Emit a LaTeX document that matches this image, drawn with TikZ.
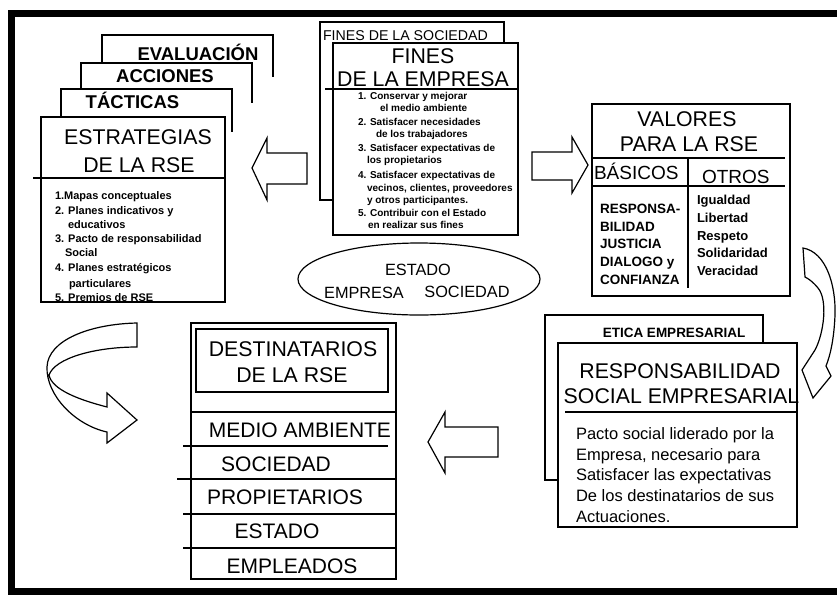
\documentclass[tikz,border=0pt]{standalone}
\usepackage{fontspec}
\setmainfont{Liberation Sans}
\usetikzlibrary{shapes.geometric}
\begin{document}
\begin{tikzpicture}[x=1pt,y=-1pt,
  ln/.style={line width=1.2pt, line join=miter},
  txt/.style={inner sep=0pt, outer sep=0pt, text=black},
  big/.style={txt, anchor=base, font=\fontsize{21.3}{22}\selectfont},
  tab/.style={txt, anchor=base, font=\bfseries\fontsize{18.5}{19}\selectfont},
  estl/.style={txt, anchor=base west, font=\bfseries\fontsize{11}{12}\selectfont},
  finl/.style={txt, anchor=base west, font=\bfseries\fontsize{10}{11}\selectfont},
  vall/.style={txt, anchor=base west, font=\bfseries\fontsize{13.5}{14}\selectfont},
  valr/.style={txt, anchor=base west, font=\bfseries\fontsize{13}{14}\selectfont},
  ellt/.style={txt, anchor=base, font=\fontsize{16.3}{17}\selectfont},
  dest/.style={txt, anchor=base, font=\fontsize{21}{22}\selectfont},
  body/.style={txt, anchor=base west, font=\fontsize{16.5}{17}\selectfont},
  hollow/.style={ln, fill=white, line join=miter}
]
\useasboundingbox (0,0) rectangle (837,595);
% frame
\draw[line width=7pt, line join=miter] (837,13.5) -- (11.5,13.5) -- (11.5,591) -- (837,591);

% ---------- stacked tabs ----------
\draw[ln] (102,63) -- (102,35) -- (273,35) -- (273,77);
\draw[ln] (81,89) -- (81,63) -- (252,63) -- (252,103);
\draw[ln] (61,117) -- (61,89) -- (232,89) -- (232,132);
\node[tab] (eval) at (198,60) {EVALUACIÓN};
\node[tab] (acc) at (165,82) {ACCIONES};
\node[tab] (tac) at (132.5,108) {TÁCTICAS};

% ---------- estrategias ----------
\draw[ln] (41,117) rectangle (225,302);
\draw[ln] (33,178) -- (225,178);
\node[big] (estr1) at (138,144) {ESTRATEGIAS};
\node[big] (estr2) at (139,172) {DE LA RSE};
\node[estl] (e1) at (55,199) {1.Mapas conceptuales};
\node[estl] (e2) at (55,214) {2. Planes indicativos y};
\node[estl] (e3) at (68,228) {educativos};
\node[estl] (e4) at (55,242) {3. Pacto de responsabilidad};
\node[estl] (e5) at (65,256) {Social};
\node[estl] (e6) at (55,271) {4. Planes estratégicos};
\node[estl] (e7) at (69,287) {particulares};
\node[estl] (e8) at (55,301) {5. Premios de RSE};

% ---------- fines ----------
\draw[ln] (333,200) -- (320,200) -- (320,22) -- (504,22) -- (504,43);
\node[txt, anchor=base west, font=\fontsize{14.2}{15}\selectfont] (finsoc) at (323,40) {FINES DE LA SOCIEDAD};
\draw[ln] (333,43) rectangle (518,235);
\draw[ln] (325,89) -- (518,89);
\node[big] (fin1) at (423,63) {FINES};
\node[big] (fin2) at (423,86.5) {DE LA EMPRESA};
\node[finl] (f1) at (358,99) {1. Conservar y mejorar};
\node[finl] (f2) at (380,111.5) {el medio ambiente};
\node[finl] (f3) at (358,125) {2. Satisfacer necesidades};
\node[finl] (f4) at (376,137.5) {de los trabajadores};
\node[finl] (f5) at (358,151) {3. Satisfacer expectativas de};
\node[finl] (f6) at (367,163.5) {los propietarios};
\node[finl] (f7) at (358,178) {4. Satisfacer expectativas de};
\node[finl] (f8) at (367,191) {vecinos, clientes, proveedores};
\node[finl] (f9) at (367,203) {y otros participantes.};
\node[finl] (f10) at (358,216) {5. Contribuir con el Estado};
\node[finl] (f11) at (368,228.5) {en realizar sus fines};

% ---------- straight arrows ----------
\draw[hollow] (307,153) -- (267,153) -- (267,138) -- (252,168) -- (267,200) -- (267,184) -- (307,184) -- cycle;
\draw[hollow] (532,152) -- (572,152) -- (572,137) -- (588,165) -- (572,193) -- (572,180) -- (532,180) -- cycle;
\draw[hollow] (498,427) -- (445,427) -- (445,412) -- (428,442) -- (445,473) -- (445,457) -- (498,457) -- cycle;

% ---------- valores ----------
\draw[ln] (592,104) rectangle (790,296);
\draw[ln] (592,158) -- (785,158);
\draw[ln] (592,186) -- (785,186);
\draw[ln] (688,158) -- (688,288);
\node[big] (val1) at (687,126) {VALORES};
\node[big] (val2) at (689,151) {PARA LA RSE};
\node[txt, anchor=base west, font=\fontsize{19}{20}\selectfont] (bas) at (594,179) {BÁSICOS};
\node[txt, anchor=base west, font=\fontsize{19}{20}\selectfont] (otr) at (702,183) {OTROS};
\node[vall] (b1) at (600,213) {RESPONSA-};
\node[vall] (b2) at (600,231) {BILIDAD};
\node[vall] (b3) at (600,248) {JUSTICIA};
\node[vall] (b4) at (600,266) {DIALOGO y};
\node[vall] (b5) at (600,284) {CONFIANZA};
\node[valr] (o1) at (697,204) {Igualdad};
\node[valr] (o2) at (697,222) {Libertad};
\node[valr] (o3) at (697,240.5) {Respeto};
\node[valr] (o4) at (697,257) {Solidaridad};
\node[valr] (o5) at (697,275) {Veracidad};

% ---------- ellipse ----------
\node[ellipse, draw, ln, minimum width=242pt, minimum height=72pt, inner sep=0pt] (ell) at (419,279) {};
\node[ellt] (est) at (418,275) {ESTADO};
\node[ellt] (emp) at (364,298) {EMPRESA};
\node[ellt] (soc) at (467,297) {SOCIEDAD};

% ---------- curved arrows ----------
\draw[hollow] (137,323) .. controls (90,324) and (48,340) .. (47,367)
  .. controls (46,395) and (75,425) .. (107,432) -- (107,443) -- (137,420) -- (107,393) -- (107,407)
  .. controls (80,400) and (52,390) .. (49,375)
  .. controls (55,358) and (95,347) .. (137,347) -- cycle;
\draw[hollow] (803,248) .. controls (826,252) and (836,285) .. (835,315)
  .. controls (834,340) and (830,356) .. (826,366) -- (831,376) -- (813,398) -- (802,370) -- (815,350)
  .. controls (824,333) and (828,300) .. (818,288)
  .. controls (813,282) and (809,279) .. (805,277) -- cycle;

% ---------- destinatarios ----------
\draw[ln] (191,323) rectangle (396,579);
\draw[line width=2pt] (196,329) rectangle (388,392);
\draw[ln] (191,412) -- (396,412);
\draw[ln] (183,446) -- (388,446);
\draw[ln] (177,479) -- (396,479);
\draw[ln] (183,514) -- (396,514);
\draw[ln] (183,548) -- (396,548);
\node[big] (d1) at (293,356) {DESTINATARIOS};
\node[big] (d2) at (292,382) {DE LA RSE};
\node[dest] (i1) at (300,437) {MEDIO AMBIENTE};
\node[dest] (i2) at (276,471) {SOCIEDAD};
\node[dest] (i3) at (285,504) {PROPIETARIOS};
\node[dest] (i4) at (277,538) {ESTADO};
\node[dest] (i5) at (292,573) {EMPLEADOS};

% ---------- etica / RSE ----------
\draw[ln] (558,480) -- (545,480) -- (545,315) -- (763,315) -- (763,342);
\node[txt, anchor=base, font=\bfseries\fontsize{13.5}{14}\selectfont] (etica) at (674,337) {ETICA EMPRESARIAL};
\draw[ln] (558,343) rectangle (797,527);
\draw[ln] (565,412) -- (798,412);
\node[big] (r1) at (680,378) {RESPONSABILIDAD};
\node[big] (r2) at (681.5,403) {SOCIAL EMPRESARIAL};
\node[body] (p1) at (576,439) {Pacto social liderado por la};
\node[body] (p2) at (576,460) {Empresa, necesario para};
\node[body] (p3) at (576,480) {Satisfacer las expectativas};
\node[body] (p4) at (576,501) {De los destinatarios de sus};
\node[body] (p5) at (576,522) {Actuaciones.};
\end{tikzpicture}
\end{document}
